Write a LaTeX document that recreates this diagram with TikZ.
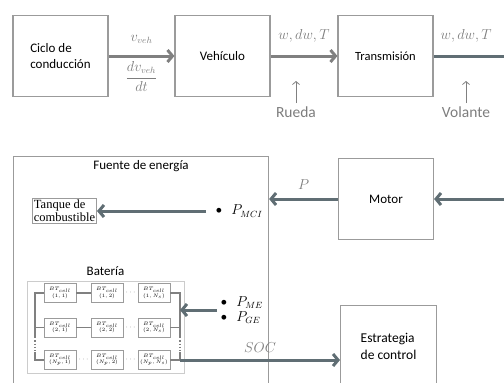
\documentclass[tikz,border=0pt]{standalone}
\usepackage{fontspec}
\setmainfont{Carlito}
\newfontfamily\timesfont{Liberation Serif}
\usetikzlibrary{positioning, calc, arrows.meta}

\definecolor{cajagris}{RGB}{155,155,155}
\definecolor{flechagris}{RGB}{128,128,128}
\definecolor{azulgris}{RGB}{96,110,116}
\definecolor{textogris}{RGB}{125,125,125}

\begin{document}
\begin{tikzpicture}[
            x=1pt, y=-1pt,
            bloque/.style={draw=cajagris, line width=1.1pt, minimum width=95pt, minimum height=81pt, align=center, font=\fontsize{13}{16}\selectfont},
            flujo/.style={-{Straight Barb[length=5pt,width=12pt]}, line width=3pt, draw=flechagris},
            flujoazul/.style={flujo, draw=azulgris},
            etiqueta/.style={text=textogris, font=\fontsize{13.5}{15}\selectfont},
            puntero/.style={-{Straight Barb[length=3pt,width=7pt]}, draw=flechagris, line width=0.8pt},
            celda/.style={draw=cajagris, line width=0.8pt, minimum width=32pt, minimum height=19pt, inner sep=0pt, align=center, font=\fontsize{5.5}{6.5}\selectfont},
            cable/.style={draw=flechagris, line width=1.5pt}
        ]
            \useasboundingbox (0,0) rectangle (504,383);
            \clip (0,0) rectangle (504,383);

            % Cadena de tracción
            \node[bloque, align=left] (ciclo) at (60.5,56) {Ciclo de\\conducción};
            \node[bloque] (vehiculo) at (222.5,56) {Vehículo};
            \node[bloque, font=\fontsize{12.5}{15}\selectfont] (trans) at (385.5,56) {Transmisión};
            \coordinate (salida) at (515,56);

            \draw[flujo] (ciclo) -- (vehiculo)
                node[midway, above=8pt, etiqueta] {$v_{veh}$}
                node[midway, below=1pt, etiqueta] {$\displaystyle\frac{dv_{veh}}{dt}$};
            \draw[flujo] (vehiculo) -- (trans) node[midway, above=9pt, etiqueta] {$w, dw, T$};
            \draw[flujoazul, -] (trans) -- (salida) node[pos=0.4, above=9pt, etiqueta] {$w, dw, T$};

            % Rueda y volante
            \node[text=textogris, font=\fontsize{15.5}{17}\selectfont] (rueda) at (296,112) {Rueda};
            \node[text=textogris, font=\fontsize{15.5}{17}\selectfont] (volante) at (466,112) {Volante};
            \coordinate (rueda-punta) at (296,81);
            \coordinate (volante-punta) at (466,81);
            \draw[puntero] (rueda.north) -- (rueda-punta);
            \draw[puntero] (volante.north) -- (volante-punta);

            % Fuente de energía
            \node[draw=cajagris, line width=1.1pt, minimum width=255pt, minimum height=245pt, anchor=north west] (fuente) at (13,156) {};
            \node[below=1pt of fuente.north, font=\fontsize{13}{16}\selectfont] (fuente-titulo) {Fuente de energía};
            \node[draw=cajagris, line width=0.9pt, inner sep=1.5pt, align=left, font=\timesfont\fontsize{12.5}{13}\selectfont] (tanque) at (64.5,211) {Tanque de\\combustible};
            \node[anchor=west, font=\fontsize{13.5}{15}\selectfont] (pmci) at (212,211) {\textbullet\hspace{9pt}$P_{MCI}$};
            \draw[flujoazul, shorten <=6pt] (pmci.west) -- (pmci.west -| tanque.east);

            % Motor
            \node[bloque] (motor) at (386,199) {Motor};
            \coordinate (entrada) at (515,199);
            \draw[flujoazul] (motor) -- (motor.west -| fuente.east) node[midway, above=5pt, etiqueta] {$P$};
            \draw[flujoazul] (entrada) -- (motor);

            % Batería
            \node[draw=gray!40, line width=0.9pt, minimum width=157pt, minimum height=92pt] (bateria) at (105.5,327) {};
            \node[above=1pt of bateria.north, font=\fontsize{13}{16}\selectfont] (bateria-titulo) {Batería};
            \foreach \f/\fy/\fl in {1/293/1, 2/327.5/2, 3/360/N_p}
                \foreach \c/\cx/\cl in {1/60/1, 2/107/2, 3/154/N_s}
                    \node[celda] (c\f\c) at (\cx,\fy) {$BT_{cell}$\\$(\fl,\cl)$};
            \foreach \f/\fy in {1/293, 2/327.5, 3/360} {
                \coordinate (izq\f) at (35,\fy);
                \coordinate (der\f) at (180,\fy);
            }
            \draw[cable] (c11) -- (c12) (c21) -- (c22);
            \draw[cable] (c11) -- (izq1) -- (izq2) -- (c21);
            \draw[cable] (izq2) -- ($(izq2)!0.3!(izq3)$);
            \draw[cable] (c31) -- (izq3) -- ($(izq3)!0.25!(izq2)$);
            \draw[cable] (c13) -- (der1) -- (der2) -- (c23);
            \draw[cable] (der2) -- ($(der2)!0.3!(der3)$);
            \draw[cable] (c33) -- (der3) -- ($(der3)!0.25!(der2)$);
            \draw[flechagris, line width=1.2pt, dotted] ($(izq2)!0.3!(izq3)$) -- ($(izq3)!0.25!(izq2)$);
            \draw[flechagris, line width=1.2pt, dotted] ($(der2)!0.3!(der3)$) -- ($(der3)!0.25!(der2)$);
            \foreach \a/\b in {c12/c13, c22/c23, c31/c32, c32/c33}
                \node[text=flechagris, font=\fontsize{8}{8}\selectfont] at ($(\a.east)!0.5!(\b.west)$) {$\cdots$};

            \node[anchor=west, align=left, font=\fontsize{13.5}{13.5}\selectfont] (pbat) at (217,310) {\textbullet\hspace{9pt}$P_{ME}$\\[1pt]\textbullet\hspace{9pt}$P_{GE}$};
            \draw[flujoazul] (pbat.west) -- (pbat.west -| der1);

            % Estrategia de control
            \node[draw=cajagris, line width=1.1pt, minimum width=96pt, minimum height=82pt, anchor=north west, align=left, font=\fontsize{13.5}{17}\selectfont] (estrategia) at (340,305) {Estrategia\\de control};
            \draw[flujoazul] (der3) -- (der3 -| estrategia.west) node[midway, above=3pt, etiqueta] {$SOC$};
          \end{tikzpicture}
\end{document}
